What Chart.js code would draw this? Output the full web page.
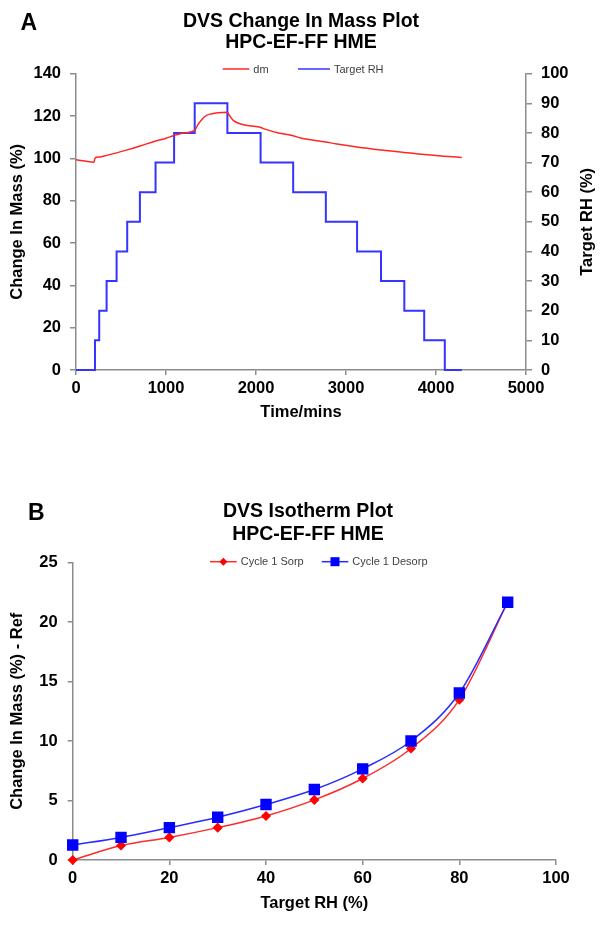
<!DOCTYPE html>
<html>
<head>
<meta charset="utf-8">
<script src="https://cdn.jsdelivr.net/npm/chart.js@4.4.1/dist/chart.umd.min.js"></script>
<style>
html, body { margin: 0; padding: 0; background: #fff; }
#chartA { position: absolute; left: 0; top: 0; }
#chartB { position: absolute; left: 0; top: 450px; }
</style>
</head>
<body>
<canvas id="chartA" width="604" height="440"></canvas>
<canvas id="chartB" width="604" height="475"></canvas>
<script>
// Panel A - change in mass vs time
const dmTime = [0, 100, 200, 212, 258, 340, 451, 569, 710, 884, 1000, 1090, 1200, 1319, 1350, 1400, 1450, 1500, 1580, 1682, 1700, 1750, 1850, 2000, 2051, 2100, 2250, 2413, 2500, 2776, 2900, 3123, 3389, 3648, 3869, 4098, 4287];
const dmValues = [99.3, 98.7, 98.2, 100.2, 100.6, 101.4, 102.6, 104.0, 105.8, 108.2, 109.5, 110.8, 112.0, 113.2, 115.6, 118.5, 120.3, 121.0, 121.6, 121.8, 120.6, 117.8, 116.0, 115.0, 114.6, 113.8, 112.0, 110.7, 109.6, 107.7, 106.8, 105.4, 104.0, 102.8, 101.8, 101.0, 100.4];
const rhTime = [0, 211, 258, 340, 451, 569, 710, 884, 1090, 1319, 1682, 2051, 2413, 2776, 3123, 3389, 3648, 3869, 4098, 4287];
const rhValues = [0, 10, 20, 30, 40, 50, 60, 70, 80, 90, 80, 70, 60, 50, 40, 30, 20, 10, 0, 0];

// Panel B - isotherm
const isoRH = [0, 10, 20, 30, 40, 50, 60, 70, 80, 90];
const sorpValues = [0, 1.22, 1.9, 2.72, 3.7, 5.05, 6.85, 9.37, 13.47, 21.66];
const desorpValues = [1.26, 1.9, 2.72, 3.59, 4.66, 5.92, 7.66, 10.0, 14.03, 21.66];

const FONT = '"Liberation Sans", Arial, sans-serif';
const AXIS_GREY = '#8c8c8c';
const tickFont = { family: FONT, size: 16.5, weight: 'bold' };

const decor = {
    id: 'decor',
    afterDraw(chart, args, opts) {
        const ctx = chart.ctx;
        ctx.save();
        ctx.fillStyle = '#000';
        ctx.textBaseline = 'alphabetic';
        ctx.textAlign = 'left';
        ctx.font = 'bold 23px ' + FONT;
        ctx.fillText(opts.letter, opts.letterX, opts.letterY);
        ctx.textAlign = 'center';
        ctx.font = 'bold 19.5px ' + FONT;
        opts.title.forEach((t, i) => ctx.fillText(t, opts.titleX, opts.titleY[i]));

        // right axis title, read bottom to top
        if (opts.rightTitle) {
            const area = chart.chartArea;
            ctx.save();
            ctx.translate(opts.rightTitle.x, (area.top + area.bottom) / 2);
            ctx.rotate(-Math.PI / 2);
            ctx.font = 'bold 16.5px ' + FONT;
            ctx.textBaseline = 'middle';
            ctx.fillText(opts.rightTitle.text, 0, 0);
            ctx.restore();
        }

        // legend: line + optional marker + label
        ctx.font = '11px ' + FONT;
        ctx.textAlign = 'left';
        ctx.textBaseline = 'middle';
        chart.data.datasets.forEach((ds, i) => {
            const it = opts.legend[i];
            const y = opts.legendY;
            ctx.strokeStyle = ds.borderColor;
            ctx.lineWidth = 1.5;
            ctx.beginPath();
            ctx.moveTo(it.x, y);
            ctx.lineTo(it.x + it.w, y);
            ctx.stroke();
            const cx = it.x + it.w / 2;
            ctx.fillStyle = ds.pointBackgroundColor || ds.borderColor;
            if (ds.pointStyle === 'rect') {
                ctx.fillRect(cx - 4.5, y - 4.5, 9, 9);
            } else if (ds.pointStyle === 'rectRot') {
                ctx.beginPath();
                ctx.moveTo(cx - 4, y);
                ctx.lineTo(cx, y - 4);
                ctx.lineTo(cx + 4, y);
                ctx.lineTo(cx, y + 4);
                ctx.closePath();
                ctx.fill();
            }
            ctx.fillStyle = '#404040';
            ctx.fillText(ds.label, it.x + it.w + 4, y + 0.5);
        });
        ctx.restore();
    }
};

function axisTitle(text, pad) {
    return { display: true, text: text, color: '#000', font: { family: FONT, size: 16.5, weight: 'bold' }, padding: pad };
}

const plain = (v) => String(v);
const gridOpts = { drawOnChartArea: false, tickLength: 6, color: AXIS_GREY, lineWidth: 1.5 };
const borderOpts = { color: AXIS_GREY, width: 1.5 };

// Chart A
new Chart(document.getElementById('chartA'), {
    type: 'line',
    data: {
        datasets: [{
            label: 'dm',
            data: dmTime.map((t, i) => ({ x: t, y: dmValues[i] })),
            borderColor: '#ff2626',
            borderWidth: 1.5,
            pointRadius: 0,
            cubicInterpolationMode: 'monotone',
            yAxisID: 'y',
            fill: false
        }, {
            label: 'Target RH',
            data: rhTime.map((t, i) => ({ x: t, y: rhValues[i] })),
            borderColor: '#3535ff',
            borderWidth: 2,
            pointRadius: 0,
            stepped: 'before',
            yAxisID: 'y1',
            clip: false,
            fill: false
        }]
    },
    options: {
        responsive: false,
        animation: false,
        layout: { padding: { top: 73.7, bottom: 15, left: 0, right: 0 } },
        plugins: {
            legend: { display: false },
            tooltip: { enabled: false },
            decor: {
                letter: 'A', letterX: 20.5, letterY: 30,
                title: ['DVS Change In Mass Plot', 'HPC-EF-FF HME'],
                titleX: 301, titleY: [26.7, 48.3],
                legendY: 69,
                legend: [{ x: 222.7, w: 26.6 }, { x: 298, w: 32 }],
                rightTitle: { text: 'Target RH (%)', x: 587 }
            }
        },
        scales: {
            x: {
                type: 'linear', min: 0, max: 5000,
                ticks: { stepSize: 1000, padding: 4, color: '#000', font: tickFont, maxRotation: 0, callback: plain },
                grid: { ...gridOpts, tickLength: 5 },
                border: borderOpts,
                title: axisTitle('Time/mins', { top: 0, bottom: 3 }),
                afterFit(s) { s.height = 55; }
            },
            y: {
                position: 'left', min: 0, max: 140,
                ticks: { stepSize: 20, padding: 9, color: '#000', font: tickFont, callback: plain },
                grid: gridOpts,
                border: borderOpts,
                title: axisTitle('Change In Mass (%)', { top: 8, bottom: 0 }),
                afterFit(s) { s.width = 76; }
            },
            y1: {
                position: 'right', min: 0, max: 100,
                ticks: { stepSize: 10, padding: 9, color: '#000', font: tickFont, callback: plain },
                grid: gridOpts,
                border: borderOpts,
                afterFit(s) { s.width = 78; }
            }
        }
    },
    plugins: [decor]
});

// Chart B
new Chart(document.getElementById('chartB'), {
    type: 'line',
    data: {
        datasets: [{
            label: 'Cycle 1 Sorp',
            data: isoRH.map((r, i) => ({ x: r, y: sorpValues[i] })),
            borderColor: '#ff2a2a',
            pointBackgroundColor: '#ff0000',
            pointBorderColor: '#ff0000',
            borderWidth: 1.5,
            pointStyle: 'rectRot',
            pointRadius: 4,
            cubicInterpolationMode: 'monotone',
            order: 1,
            clip: false,
            fill: false
        }, {
            label: 'Cycle 1 Desorp',
            data: isoRH.map((r, i) => ({ x: r, y: desorpValues[i] })),
            borderColor: '#2a2aff',
            pointBackgroundColor: '#0000ff',
            pointBorderColor: '#0000ff',
            borderWidth: 1.5,
            pointStyle: 'rect',
            pointRadius: 7,
            cubicInterpolationMode: 'monotone',
            order: 0,
            clip: false,
            fill: false
        }]
    },
    options: {
        responsive: false,
        animation: false,
        layout: { padding: { top: 112.5, bottom: 10, left: 0, right: 48 } },
        plugins: {
            legend: { display: false },
            tooltip: { enabled: false },
            decor: {
                letter: 'B', letterX: 28, letterY: 70,
                title: ['DVS Isotherm Plot', 'HPC-EF-FF HME'],
                titleX: 308, titleY: [67, 90],
                legendY: 111.7,
                legend: [{ x: 210, w: 26.7 }, { x: 321.7, w: 26.6 }]
            }
        },
        scales: {
            x: {
                type: 'linear', min: 0, max: 100,
                ticks: { stepSize: 20, padding: 4, color: '#000', font: tickFont, maxRotation: 0, callback: plain },
                grid: { ...gridOpts, tickLength: 5 },
                border: borderOpts,
                title: axisTitle('Target RH (%)', { top: 0, bottom: 1.5 }),
                afterFit(s) { s.width = s.width; s.height = 55; }
            },
            y: {
                position: 'left', min: 0, max: 25,
                ticks: { stepSize: 5, padding: 10, color: '#000', font: tickFont, callback: plain },
                grid: { ...gridOpts, tickLength: 5 },
                border: borderOpts,
                title: axisTitle('Change In Mass (%) - Ref', { top: 8, bottom: 0 }),
                afterFit(s) { s.width = 72.7; }
            }
        }
    },
    plugins: [decor]
});
</script>
</body>
</html>
